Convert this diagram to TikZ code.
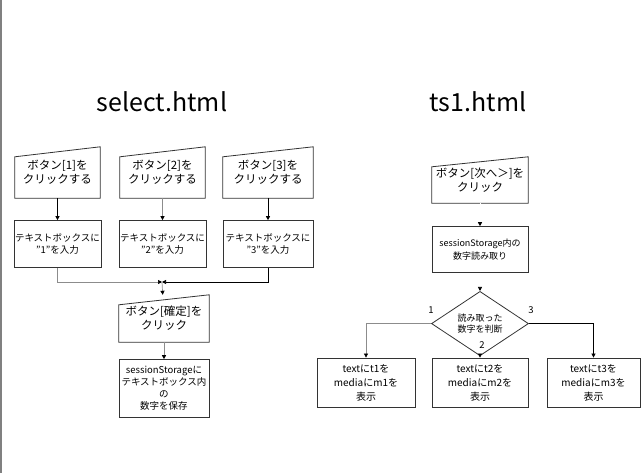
\documentclass[tikz,border=0pt]{standalone}
\usepackage{fontspec}
\setmainfont{Noto Sans CJK JP}
\usetikzlibrary{arrows.meta, positioning, shapes.geometric, calc}

\begin{document}
\begin{tikzpicture}[
  x=1pt, y=-1pt,
  font=\fontsize{10}{12}\selectfont,
  title/.style={font=\fontsize{25}{28}\selectfont, inner sep=0pt},
  btn/.style={rectangle, minimum width=86pt, minimum height=51pt, inner sep=1pt, align=center, font=\fontsize{11.5}{14}\selectfont},
  proc/.style={rectangle, draw=black!80, line width=0.8pt, minimum width=86pt, minimum height=47pt, inner sep=1pt, align=center, font=\fontsize{9.5}{12}\selectfont},
  dec/.style={diamond, draw=black!80, line width=0.8pt, minimum width=97pt, minimum height=50pt, inner sep=0pt, align=center, font=\fontsize{9}{11}\selectfont},
  lbl/.style={font=\fontsize{9.5}{11}\selectfont, inner sep=1pt},
  link/.style={-{Triangle[length=4pt, width=4pt]}, draw=black, line width=0.7pt},
  glink/.style={-{Triangle[length=4pt, width=4pt, color=black, fill=black]}, draw=black!45, line width=0.7pt},
  hlink/.style={-{Triangle[length=4pt, width=4pt, color=black, fill=black]}, draw=white, line width=0.7pt},
]
  \useasboundingbox (0,0) rectangle (641,473);
  \draw[black!50, line width=1.5pt] (0.75,0) -- (0.75,473);

  % page titles
  \node[title] (tsel) at (162,102) {select.html};
  \node[title] (tts) at (478,102) {ts1.html};

  % select.html
  \node[btn, minimum width=85pt] (b1) at (57.5,172.5) {ボタン[1]を\\クリックする};
  \node[btn, minimum width=85pt] (b2) at (162.5,172.5) {ボタン[2]を\\クリックする};
  \node[btn, minimum width=90pt] (b3) at (268,172.5) {ボタン[3]を\\クリックする};
  \node[proc, minimum width=85pt, below=22pt of b1] (t1) {テキストボックスに\\”1”を入力};
  \node[proc, minimum width=85pt, below=22pt of b2] (t2) {テキストボックスに\\”2”を入力};
  \node[proc, minimum width=90pt, below=22pt of b3] (t3) {テキストボックスに\\”3”を入力};
  \coordinate (mg) at (162,282);
  \node[btn, minimum width=90pt, minimum height=47pt] (bok) at (164,318.5) {ボタン[確定]を\\クリック};
  \node[proc, minimum width=90pt, minimum height=58pt, below=17pt of bok] (ss)
    {sessionStorageに\\テキストボックス内\\の\\数字を保存};

  % ts1.html
  \node[btn, minimum width=96pt, minimum height=46pt] (bnext) at (480,180) {ボタン[次へ＞]を\\クリック};
  \node[proc, minimum width=96pt, minimum height=46pt, font=\fontsize{9}{13}\selectfont, below=23pt of bnext] (rd)
    {sessionStorage内の\\数字読み取り};
  \node[dec, below=18pt of rd] (dc) {読み取った\\数字を判断};
  \node[proc, minimum width=98pt, minimum height=49pt, font=\fontsize{10}{14}\selectfont] (r1) at (366,382.5) {textにt1を\\mediaにm1を\\表示};
  \node[proc, minimum width=96pt, minimum height=49pt, font=\fontsize{10}{14}\selectfont] (r2) at (480,382.5) {textにt2を\\mediaにm2を\\表示};
  \node[proc, minimum width=93pt, minimum height=49pt, font=\fontsize{10}{14}\selectfont] (r3) at (593.5,382.5) {textにt3を\\mediaにm3を\\表示};
  \node[lbl] (l1) at (431,310) {1};
  \node[lbl] (l3) at (531,310) {3};
  \node[lbl] (l2) at (482,345) {2};

  % manual input tops
  \foreach \n in {b1,b2,b3,bok,bnext}
    \draw[draw=black!80, line width=0.8pt] (\n.south west) -- ([yshift=-10pt]\n.north west)
      -- (\n.north east) -- (\n.south east) -- cycle;

  \draw[link] (b1) -- (t1);
  \draw[glink] (b2) -- (t2);
  \draw[link] (b3) -- (t3);
  \draw[glink] (t1) |- (mg);
  \draw[link] (t3) |- (mg);
  \draw[glink] (mg) -- (bok);
  \draw[glink] (bok) -- (ss);

  \draw[hlink] (bnext) -- (rd);
  \draw[hlink] (rd) -- (dc);
  \draw[glink] (dc.west) -| (r1);
  \draw[link] (dc.east) -| (r3);
  \draw[hlink] (dc) -- (r2);
\end{tikzpicture}
\end{document}
